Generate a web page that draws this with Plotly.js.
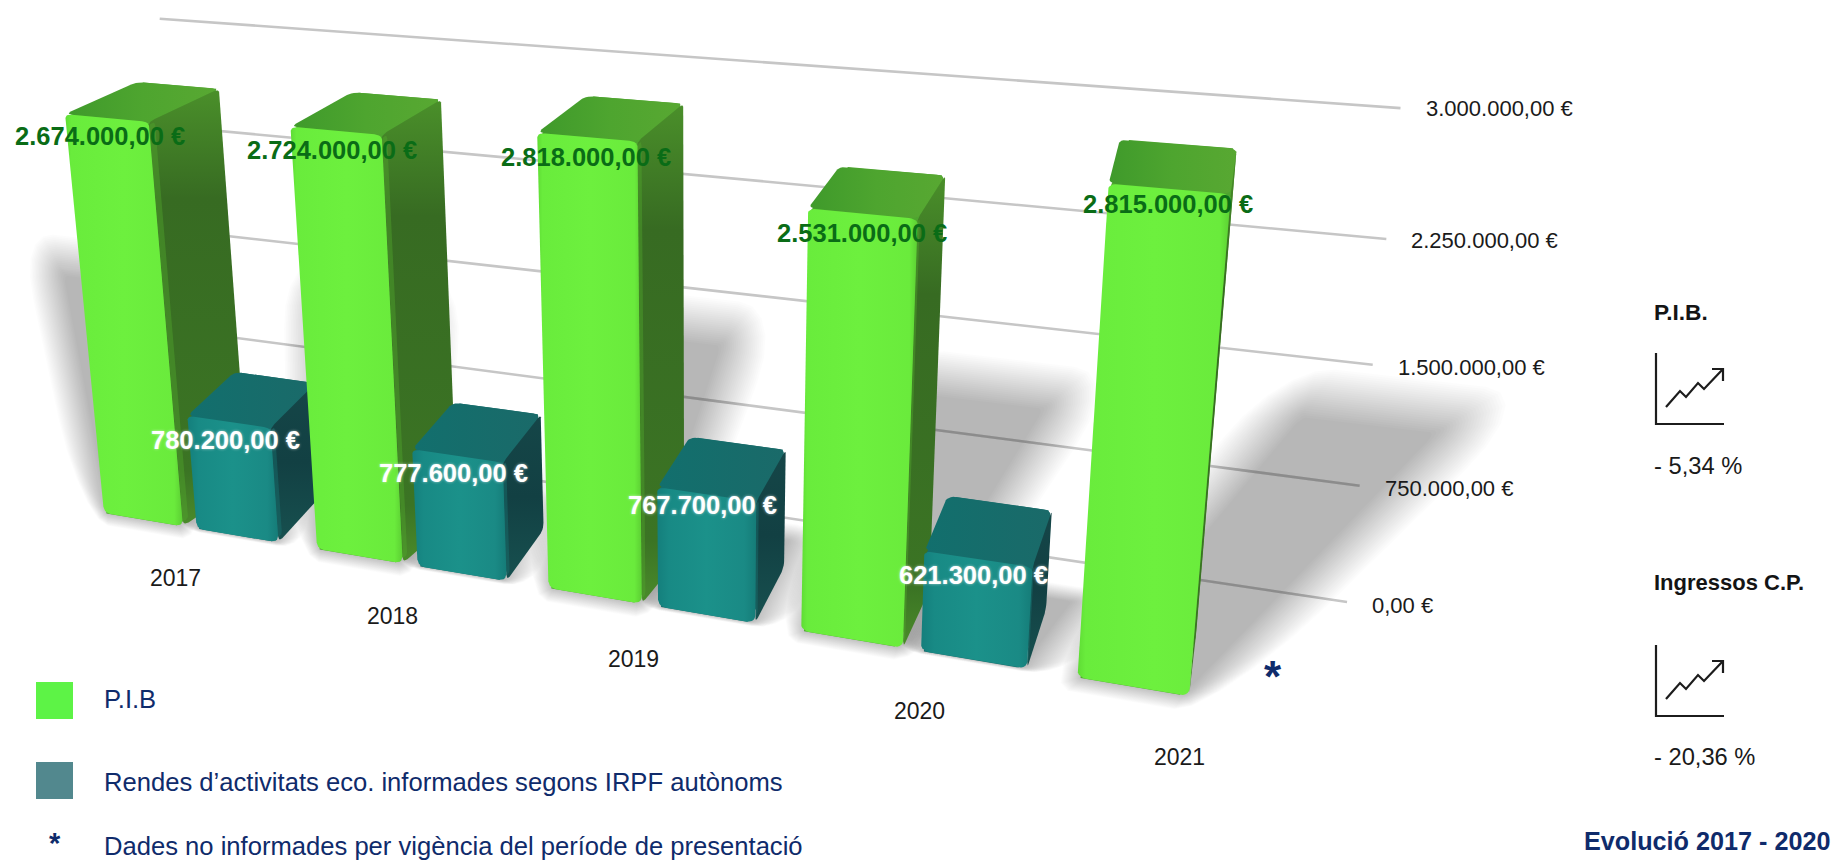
<!DOCTYPE html>
<html><head><meta charset="utf-8">
<script src="https://cdn.plot.ly/plotly-3.0.1.min.js"></script>
<style>html,body{margin:0;padding:0;background:#fff;overflow:hidden}#c{width:1834px;height:861px}</style>
</head><body><div id="c"></div>
<script>
// ---- data ----
const years = ['2017','2018','2019','2020','2021'];
const pibValues = [2674000,2724000,2818000,2531000,2815000];
const rendesValues = [780200,777600,767700,621300,null];
const gridValues = [0,750000,1500000,2250000,3000000];
const gridLabels = ['0,00 €','750.000,00 €','1.500.000,00 €','2.250.000,00 €','3.000.000,00 €'];
const pibLabels = ['2.674.000,00 €','2.724.000,00 €','2.818.000,00 €','2.531.000,00 €','2.815.000,00 €'];
const rendesLabels = ['780.200,00 €','777.600,00 €','767.700,00 €','621.300,00 €',null];
const legendNames = ['P.I.B','Rendes d’activitats eco. informades segons IRPF autònoms','Dades no informades per vigència del període de presentació'];
const sideTitles = ['P.I.B.','Ingressos C.P.'];
const sideChanges = ['- 5,34 %','- 20,36 %'];
const sideFooter = 'Evolució 2017 - 2020';

// ---- three-point perspective of the scene (category u, depth e, value) ----
const O = [104,513], VH = [-5040,-356], VD = [1498,-800], VV = [698,6600];
const A = -0.03977, BAR_C = -0.0230, GRID_C = -0.0222;
function P(u,e,val,c){
  const t = c*val/1e6, s = A*u, w = 1+s+e+t;
  return [(O[0]+s*VH[0]+e*VD[0]+t*VV[0])/w, (O[1]+s*VH[1]+e*VD[1]+t*VV[1])/w];
}
function rr(a0,a1,b0,b1,ra,rb,n,rbTop){
  n = n||5; const pts=[];
  const rt = rbTop===undefined?rb:rbTop;
  const cs=[[a1-ra,b1-rt,0,rt],[a0+ra,b1-rt,1,rt],[a0+ra,b0+rb,2,rb],[a1-ra,b0+rb,3,rb]];
  cs.forEach(c=>{ for(let k=0;k<=n;k++){ const th=(c[2]+k/n)*Math.PI/2;
    pts.push([c[0]+ra*Math.cos(th), c[1]+c[3]*Math.sin(th)]); } });
  return pts;
}
const traces=[];
function poly(pts,style){
  const x=pts.map(p=>p[0]), y=pts.map(p=>p[1]);
  x.push(x[0]); y.push(y[0]);
  const t={type:'scatter',mode:'lines',x,y,fill:'toself',line:{width:0,color:'rgba(0,0,0,0)'},hoverinfo:'skip',showlegend:false};
  if(style.grad) t.fillgradient={type:style.grad,colorscale:style.stops};
  else t.fillcolor=style.color;
  traces.push(t);
}
// grid lines
const GRID_E = 0.0684, GRID_END = 4.853;
const GRID_LABEL_DY=[3,3,3,1,0];
const annotations=[];
gridValues.forEach((v,k)=>{
  const a=P(0,GRID_E,v,GRID_C), b=P(GRID_END,GRID_E,v,GRID_C);
  traces.push({type:'scatter',mode:'lines',x:[a[0],b[0]],y:[a[1],b[1]],line:{color:'#c6c6c6',width:2.6},hoverinfo:'skip',showlegend:false});
  annotations.push({x:b[0]+23,y:b[1]+GRID_LABEL_DY[k],xref:'x',yref:'y',text:gridLabels[k],showarrow:false,xanchor:'left',yanchor:'middle',font:{family:'Liberation Sans',size:22,color:'#1a1a1a'}});
});
// soft floor shadows
const W=0.38, D=0.036, TEAL_OFF=0.445;
function shadow(U,val){
  const f=val/2800000, E=0.20*f;
  const us=u=>u+(-1.66+0.56*u)*f;
  const c00=[U,0],c10=[U+W,0],c01=[us(U),E],c11=[us(U+W),E];
  const N=24;
  for(let k=0;k<N;k++){
    const d=0.34-k*0.017, r=Math.min(0.5,Math.max(0.04,d*0.9+0.05));
    const pts=rr(-d,1+d,-d*0.12,1+d*0.55,r,r,5).map(p=>{
      const s=p[0],t=p[1];
      const u=(1-t)*((1-s)*c00[0]+s*c10[0])+t*((1-s)*c01[0]+s*c11[0]);
      const e=(1-t)*((1-s)*c00[1]+s*c10[1])+t*((1-s)*c01[1]+s*c11[1]);
      return P(u,e,0,BAR_C);
    });
    poly(pts,{color:'rgba(0,0,0,0.0125)'});
  }
}
years.forEach((y,i)=>{ shadow(i,pibValues[i]); if(rendesValues[i]) shadow(i+TEAL_OFF,rendesValues[i]); });

const GREEN={under:'#4ea52f',blend:'rgba(80,165,44,0.45)',top:[[0,'#3f9a2b'],[0.5,'#4ea52f'],[1,'#58a832']],
  side:[[0,'#4a8a2a'],[0.12,'#3b7424'],[0.75,'#376b22'],[1,'#4a8f2a']],
  front:[[0,'#5fdc35'],[0.05,'#69ec3c'],[0.5,'#6df03e'],[0.93,'#6aeb3c'],[1,'#5ccf33']]};
const TEAL={under:'#176c6b',blend:'rgba(24,115,112,0.45)',top:[[0,'#126f6d'],[1,'#1a6a69']],
  side:[[0,'#17504f'],[0.5,'#124043'],[1,'#154648']],
  front:[[0,'#147f7c'],[0.12,'#188a85'],[0.5,'#1b918a'],[0.88,'#1a8a85'],[1,'#157c78']]};
const BACK_SKEW=[0.09,0.065,0.04,0.01,-0.02];
function bar(U,val,col,skew){
  const Q=(u,e,v)=>P(u+skew*e/D,e,v,BAR_C);
  const rU=0.03,rV=45000,rE=0.003;
  // silhouette below the three faces keeps their shared corners closed
  poly([Q(U+0.012,0,0),Q(U+0.006,0,val-18000),Q(U+0.03,D,val),Q(U+W-0.012,D,val),Q(U+W,D-0.002,val-18000),Q(U+W,D-0.004,12000),Q(U+W-0.03,0,0)],{color:col.under});
  poly(rr(U,U+W,0,D,rU,rE).map(p=>Q(p[0],p[1],val)),{grad:'horizontal',stops:col.top});
  poly(rr(0,D,0,val,rE,rV,5,18000).map(p=>Q(U+W,p[0],p[1])),{grad:'vertical',stops:col.side});
  poly(rr(0,0.003,rV*0.7,val-rV*0.4,0.001,20000).map(p=>Q(U+W,p[0],p[1])),{color:col.blend});
  poly(rr(U,U+W,0,val,rU,rV,5,25000).map(p=>P(p[0],0,p[1],BAR_C)),{grad:'horizontal',stops:col.front});
}
years.forEach((y,i)=>{ bar(i,pibValues[i],GREEN,BACK_SKEW[i]); if(rendesValues[i]) bar(i+TEAL_OFF,rendesValues[i],TEAL,0); });

// value and category labels, anchored to the projected bars
const LABEL_U=[0.16,0.175,0.185,0.19,0.185], LABEL_DY_G=[19,20,20,20,15], LABEL_DY_T=[19,18,11,17];
years.forEach((y,i)=>{
  const g=P(i+LABEL_U[i],0,pibValues[i],BAR_C);
  annotations.push({x:g[0],y:g[1]+LABEL_DY_G[i],xref:'x',yref:'y',text:pibLabels[i],showarrow:false,xanchor:'center',yanchor:'middle',
    font:{family:'Liberation Sans',size:25.5,weight:700,color:'#0a6c16'}});
  if(rendesValues[i]){
    const t=P(i+TEAL_OFF+0.175,0,rendesValues[i],BAR_C);
    annotations.push({x:t[0],y:t[1]+LABEL_DY_T[i],xref:'x',yref:'y',text:rendesLabels[i],showarrow:false,xanchor:'center',yanchor:'middle',
      font:{family:'Liberation Sans',size:25.5,weight:700,color:'#ffffff',shadow:'0 0 3px rgba(255,255,255,0.6)'}});
  }
});
const YEAR_U=[0.55,0.5,0.47,0.52,0.39];
years.forEach((y,i)=>{
  const p=P(i+YEAR_U[i],-0.032,0,BAR_C);
  annotations.push({x:p[0],y:p[1],xref:'x',yref:'y',text:y,showarrow:false,xanchor:'center',yanchor:'middle',font:{family:'Liberation Sans',size:23,color:'#1a1a1a'}});
});
// legend and side panel
const NAVY='#0f2b6b';
function txt(x,y,text,size,color,bold,anchor){
  annotations.push({x,y,xref:'x',yref:'y',text,showarrow:false,xanchor:anchor||'left',yanchor:'middle',
    font:{family:'Liberation Sans',size,color,weight:bold?700:400}});
}
txt(102,699,legendNames[0],25.6,NAVY);
txt(102,782,legendNames[1],25.6,NAVY);
txt(102,846,legendNames[2],25.6,NAVY);
txt(55,843,'*',29,NAVY,true,'center');
txt(1273,676,'*',44,NAVY,true,'center');
txt(1652,312,sideTitles[0],22.7,'#141414',true);
txt(1652,582,sideTitles[1],22,'#141414',true);
txt(1652,466,sideChanges[0],23.7,'#1a1a1a');
txt(1652,757,sideChanges[1],23.7,'#1a1a1a');
txt(1582,841,sideFooter,25.2,NAVY,true);

function sq(y0,y1,color){return {type:'rect',xref:'x',yref:'y',x0:36,x1:73,y0,y1,fillcolor:color,line:{width:0},layer:'below'};}
const shapes=[sq(682,719,'#5df346'),sq(762,799,'#52888e')];
function icon(dy){
  const L={color:'#1c1c1c',width:2.2};
  const Y=v=>v+dy;
  shapes.push({type:'path',xref:'x',yref:'y',line:L,path:`M1656 ${Y(353)} L1656 ${Y(424)} L1724 ${Y(424)}`});
  shapes.push({type:'path',xref:'x',yref:'y',line:L,path:`M1666 ${Y(407)} L1680 ${Y(391)} L1686 ${Y(397)} L1698 ${Y(383)} L1704 ${Y(389)} L1723 ${Y(369)}`});
  shapes.push({type:'path',xref:'x',yref:'y',line:L,path:`M1712 ${Y(369)} L1723 ${Y(369)} L1723 ${Y(381)}`});
}
icon(0); icon(292);

Plotly.newPlot('c',traces,{
  width:1834,height:861,margin:{l:0,r:0,t:0,b:0},paper_bgcolor:'#fff',plot_bgcolor:'#fff',showlegend:false,
  xaxis:{range:[0,1834],visible:false,fixedrange:true},
  yaxis:{range:[861,0],visible:false,fixedrange:true},
  annotations,shapes
},{displayModeBar:false,staticPlot:true});
</script></body></html>
